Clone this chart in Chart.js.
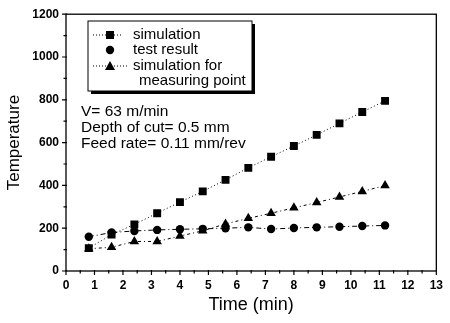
<!DOCTYPE html>
<html>
<head>
<meta charset="utf-8">
<script src="https://cdn.jsdelivr.net/npm/chart.js@4"></script>
<style>
  html, body { margin: 0; padding: 0; background: #fff; }
  #wrap { width: 450px; height: 323px; }
</style>
</head>
<body>
<div id="wrap"><canvas id="tempChart" width="450" height="323"></canvas></div>
<script>
  const times = [0.8, 1.6, 2.4, 3.2, 4.0, 4.8, 5.6, 6.4, 7.2, 8.0, 8.8, 9.6, 10.4, 11.2];
  const simulation = [107, 170, 218, 270, 322, 372, 426, 482, 534, 584, 636, 690, 743, 795];
  const testResult = [160, 180, 187, 192, 195, 197, 200, 204, 196, 201, 204, 207, 210, 213];
  const measuringPoint = [104, 111, 138, 138, 163, 188, 220, 246, 270, 295, 320, 346, 372, 399];
  const xTicks = [0, 1, 2, 3, 4, 5, 6, 7, 8, 9, 10, 11, 12, 13];
  const yTicks = [0, 200, 400, 600, 800, 1000, 1200];

  const legendItems = ['simulation', 'test result', 'simulation for', 'measuring point'];
  const notes = ['V= 63 m/min', 'Depth of cut= 0.5 mm', 'Feed rate= 0.11 mm/rev'];

  const pts = (ys) => times.map((t, i) => ({x: t, y: ys[i]}));

  function marker(ctx, style, x, y) {
    ctx.beginPath();
    if (style === 'rect') {
      ctx.rect(x - 4, y - 4, 8, 8);
    } else if (style === 'circle') {
      ctx.arc(x, y, 4.2, 0, Math.PI * 2);
    } else {
      ctx.moveTo(x, y - 5);
      ctx.lineTo(x + 5, y + 4);
      ctx.lineTo(x - 5, y + 4);
      ctx.closePath();
    }
    ctx.fill();
  }

  const framePlugin = {
    id: 'frame',
    afterDraw: (chart) => {
      const {ctx, chartArea: a} = chart;
      const xs = chart.scales.x, ys = chart.scales.y;
      ctx.save();
      ctx.strokeStyle = '#000';
      ctx.fillStyle = '#000';
      ctx.lineWidth = 1.3;
      ctx.strokeRect(a.left, a.top, a.right - a.left, a.bottom - a.top);
      ctx.lineWidth = 1.2;
      ctx.beginPath();
      for (let v = 0; v <= 13; v += 0.5) {
        const px = xs.getPixelForValue(v);
        const len = Number.isInteger(v) ? 4 : 2.5;
        ctx.moveTo(px, a.bottom - 1);
        ctx.lineTo(px, a.bottom + len);
      }
      for (let v = 0; v <= 1200; v += 100) {
        const py = ys.getPixelForValue(v);
        const len = v % 200 === 0 ? 4 : 2.5;
        ctx.moveTo(a.left + 1, py);
        ctx.lineTo(a.left - len, py);
      }
      ctx.stroke();

      // legend box with shadow
      const bx = 88, by = 21, bw = 164, bh = 70;
      ctx.fillRect(bx + 3, by + 3, bw, bh);
      ctx.fillStyle = '#fff';
      ctx.fillRect(bx, by, bw, bh);
      ctx.lineWidth = 1;
      ctx.strokeRect(bx, by, bw, bh);
      ctx.fillStyle = '#000';
      ctx.setLineDash([1, 2]);
      ctx.beginPath();
      ctx.moveTo(93, 35); ctx.lineTo(121, 35);
      ctx.moveTo(93, 66); ctx.lineTo(127, 66);
      ctx.stroke();
      ctx.setLineDash([]);
      marker(ctx, 'rect', 110, 35);
      marker(ctx, 'circle', 110, 50);
      marker(ctx, 'triangle', 110, 66);
      ctx.font = '15px "Liberation Sans", Arial, sans-serif';
      ctx.textBaseline = 'middle';
      ctx.textAlign = 'left';
      ctx.fillText(legendItems[0], 133, 35);
      ctx.fillText(legendItems[1], 133, 50);
      ctx.fillText(legendItems[2], 133, 66);
      ctx.fillText(legendItems[3], 139, 81);

      ctx.font = '15.5px "Liberation Sans", Arial, sans-serif';
      notes.forEach((n, i) => ctx.fillText(n, 81, 112 + i * 15.8));
      ctx.restore();
    }
  };

  const config = {
    type: 'line',
    data: {
      datasets: [
        {
          label: 'simulation',
          data: pts(simulation),
          borderColor: '#000',
          backgroundColor: '#000',
          borderWidth: 1,
          borderDash: [1, 2.5],
          pointStyle: 'rect',
          pointRadius: 5.6,
          pointBorderWidth: 0
        },
        {
          label: 'test result',
          data: pts(testResult),
          borderColor: '#000',
          backgroundColor: '#000',
          borderWidth: 1,
          borderDash: [5, 3, 1, 3],
          pointStyle: 'circle',
          pointRadius: 4.2,
          pointBorderWidth: 0
        },
        {
          label: 'simulation for measuring point',
          data: pts(measuringPoint),
          borderColor: '#000',
          backgroundColor: '#000',
          borderWidth: 1,
          borderDash: [3, 3, 1, 3],
          pointStyle: 'triangle',
          pointRadius: 5.5,
          pointBorderWidth: 0
        }
      ]
    },
    plugins: [framePlugin],
    options: {
      responsive: false,
      animation: false,
      layout: { padding: { left: 0, top: 7, right: 7, bottom: 0 } },
      plugins: {
        legend: { display: false },
        tooltip: { enabled: false }
      },
      scales: {
        x: {
          type: 'linear',
          min: 0,
          max: 13,
          afterFit: (s) => { s.height = 52; },
          afterBuildTicks: (s) => { s.ticks = xTicks.map(v => ({value: v})); },
          grid: { display: false, drawTicks: false },
          border: { display: false },
          ticks: {
            padding: 7,
            color: '#000',
            callback: (v) => String(v),
            font: { family: '"Liberation Sans", Arial, sans-serif', size: 12, weight: 'bold' }
          },
          title: {
            display: true,
            text: 'Time (min)',
            color: '#000',
            padding: { top: 0, bottom: 7 },
            font: { family: '"Liberation Sans", Arial, sans-serif', size: 18 }
          }
        },
        y: {
          min: 0,
          max: 1200,
          afterFit: (s) => { s.width = 66; },
          afterBuildTicks: (s) => { s.ticks = yTicks.map(v => ({value: v})); },
          grid: { display: false, drawTicks: false },
          border: { display: false },
          ticks: {
            padding: 7,
            color: '#000',
            callback: (v) => String(v),
            font: { family: '"Liberation Sans", Arial, sans-serif', size: 12, weight: 'bold' }
          },
          title: {
            display: true,
            text: 'Temperature',
            color: '#000',
            padding: { top: 4, bottom: 0 },
            font: { family: '"Liberation Sans", Arial, sans-serif', size: 17 }
          }
        }
      }
    }
  };

  const tempChart = new Chart(
    document.getElementById('tempChart'),
    config
  );
</script>
</body>
</html>
